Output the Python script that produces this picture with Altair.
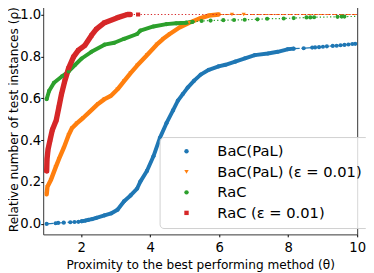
import altair as alt
import pandas as pd

SERIES = ["BaC(PaL)", "BaC(PaL) (ε = 0.01)", "RaC", "RaC (ε = 0.01)"]
COLORS = ["#1f77b4", "#ff7f0e", "#2ca02c", "#d62728"]
SHAPES = ["circle", "triangle-down", "circle", "square"]

X_TICKS = [2, 4, 6, 8, 10]
Y_TICKS = [0.0, 0.2, 0.4, 0.6, 0.8, 1.0]

# ---- BaC(PaL) ----
bac_pt_x = [1.0, 1.26, 1.334, 1.495, 1.685, 1.807, 1.92,
            8.449, 8.696, 8.78, 8.894, 9.008, 9.121, 9.291, 9.405, 9.518, 9.631, 9.745, 9.858, 9.943]
bac_pt_y = [0.0, 0.003, 0.005, 0.006, 0.008, 0.009, 0.01,
            0.839, 0.842, 0.843, 0.844, 0.846, 0.848, 0.85, 0.851, 0.853, 0.855, 0.857, 0.859, 0.86]
bac_run_x = [2.014, 2.119, 2.204, 2.317, 2.439, 2.677, 2.865, 3.054, 3.244, 3.432, 3.622, 3.715,
             3.905, 4.095, 4.282, 4.472, 4.662, 4.804, 4.945, 5.087, 5.274, 5.464, 5.7, 5.983,
             6.181, 6.465, 6.748, 7.032, 7.412, 7.695, 7.979, 8.157]
bac_run_y = [0.013, 0.016, 0.019, 0.023, 0.029, 0.041, 0.05, 0.068, 0.108, 0.136, 0.169, 0.202,
             0.253, 0.323, 0.411, 0.481, 0.542, 0.589, 0.62, 0.651, 0.684, 0.713, 0.736, 0.752,
             0.76, 0.775, 0.791, 0.806, 0.814, 0.822, 0.834, 0.837]
bac_end = (10.3, 0.862)

# ---- BaC(PaL) (eps=0.01) ----
bace_pt_x = [6.37, 6.71]
bace_pt_y = [1.0, 1.0]
bace_run_x = [1.0, 1.022, 1.118, 1.26, 1.354, 1.495, 1.637, 1.731, 1.872, 2.062, 2.252, 2.488,
              2.677, 2.865, 3.054, 3.244, 3.432, 3.622, 3.905, 4.188, 4.378, 4.566, 4.849, 5.133,
              5.416, 5.7, 5.983]
bace_run_y = [0.141, 0.177, 0.208, 0.27, 0.309, 0.363, 0.425, 0.457, 0.48, 0.507, 0.536, 0.573,
              0.596, 0.612, 0.643, 0.682, 0.72, 0.756, 0.806, 0.856, 0.884, 0.907, 0.938, 0.961,
              0.98, 0.995, 1.0]
bace_end = (10.3, 1.0)

# ---- RaC ----
rac_pt_x = [5.49, 5.75, 6.12, 6.43, 6.74, 7.11, 7.39, 7.87, 8.16, 8.53, 8.64, 8.75, 9.43, 9.55, 9.63]
rac_pt_y = [0.969, 0.971, 0.973, 0.974, 0.975, 0.977, 0.98, 0.981, 0.983, 0.986, 0.986, 0.987,
            0.989, 0.99, 0.99]
rac_run_x = [1.0, 1.07, 1.212, 1.447, 1.637, 1.827, 2.014, 2.298, 2.677, 2.961, 3.244, 3.622,
             3.715, 4.095, 4.472, 4.755, 5.039, 5.229]
rac_run_y = [0.596, 0.635, 0.674, 0.705, 0.728, 0.76, 0.79, 0.822, 0.856, 0.865, 0.884, 0.907,
             0.923, 0.943, 0.954, 0.958, 0.961, 0.965]
rac_end = (10.3, 0.992)

# ---- RaC (eps=0.01) ----
race_pt_x = [3.65]
race_pt_y = [1.0]
race_run_x = [1.0, 1.01, 1.04, 1.1, 1.164, 1.277, 1.354, 1.43, 1.524, 1.637, 1.779, 1.921, 2.11,
              2.298, 2.439, 2.677, 3.054, 3.338, 3.42]
race_run_y = [0.253, 0.309, 0.356, 0.402, 0.449, 0.495, 0.557, 0.62, 0.682, 0.744, 0.798, 0.83,
              0.853, 0.9, 0.93, 0.961, 0.985, 1.0, 1.0]
race_end = (10.3, 1.0)

rows = []
def add(name, kind, xs, ys):
    for xv, yv in zip(xs, ys):
        rows.append({"series": name, "kind": kind, "x": xv, "y": yv})

for name, px, py, rx, ry, end in [
    (SERIES[0], bac_pt_x, bac_pt_y, bac_run_x, bac_run_y, bac_end),
    (SERIES[1], bace_pt_x, bace_pt_y, bace_run_x, bace_run_y, bace_end),
    (SERIES[2], rac_pt_x, rac_pt_y, rac_run_x, rac_run_y, rac_end),
    (SERIES[3], race_pt_x, race_pt_y, race_run_x, race_run_y, race_end),
]:
    add(name, "pt", px, py)
    add(name, "run", rx, ry)
    add(name, "end", [end[0]], [end[1]])

df = pd.DataFrame(rows)
df["sidx"] = df["series"].map({s: i for i, s in enumerate(SERIES)})
df = df.sort_values(["sidx", "x"]).reset_index(drop=True)

W, H = 321, 235.5
FONT = "DejaVu Sans"

DASHES = [[7, 2, 1.5, 2], [4.5, 2], [1.3, 2.2], [1.3, 2.2]]
RUN_WIDTHS = [4, 4.5, 4, 5.5]

xenc = alt.X("x:Q", scale=alt.Scale(domain=[0.9, 10], nice=False, zero=False),
             axis=alt.Axis(values=X_TICKS, format="d",
                           title="Proximity to the best performing method (θ)",
                           titleY=34.4, titleBaseline="alphabetic",
                           labelPadding=4))
yenc = alt.Y("y:Q", scale=alt.Scale(domain=[-0.05, 1.05], nice=False, zero=False),
             axis=alt.Axis(values=Y_TICKS, format=".1f",
                           title="Relative number of test instances (ρ)",
                           titleX=-26.5, titleY=H / 2, titleAngle=270,
                           titleBaseline="alphabetic", labelPadding=0))

base = alt.Chart(df)
layers = []
for i, name in enumerate(SERIES):
    sub = base.transform_filter(alt.datum.series == name)
    layers.append(sub.mark_line(strokeWidth=1.2, clip=True, color=COLORS[i],
                                strokeDash=DASHES[i]).encode(x=xenc, y=yenc, order="x:Q"))
    layers.append(sub.transform_filter(alt.datum.kind == "run").mark_line(
        strokeWidth=RUN_WIDTHS[i], strokeCap="round", strokeJoin="round", clip=True,
        color=COLORS[i]).encode(x=xenc, y=yenc, order="x:Q"))

leg = alt.Legend(title=None, orient="none", legendX=119, legendY=136)
points = base.transform_filter(alt.datum.kind != "end").mark_point(
    filled=True, opacity=1, clip=True, strokeWidth=0, size=18).encode(
    x=xenc, y=yenc,
    color=alt.Color("series:N", scale=alt.Scale(domain=SERIES, range=COLORS), legend=leg),
    shape=alt.Shape("series:N", scale=alt.Scale(domain=SERIES, range=SHAPES), legend=leg),
)
layers.append(points)

chart = alt.layer(*layers).properties(
    width=W, height=H,
    autosize=alt.AutoSizeParams(type="none"),
    padding={"left": 36, "top": -7, "right": 9, "bottom": 36},
).configure_view(
    stroke="#333333", strokeWidth=1
).configure_axis(
    grid=False, domain=False, ticks=True, tickSize=2.5, tickColor="#000000", tickWidth=1,
    labelFont=FONT, labelFontSize=13.5, labelColor="#000000", labelFlush=False,
    labelOverlap=False,
    titleFont=FONT, titleFontSize=12.4, titleFontWeight="normal", titleColor="#000000",
).configure_legend(
    labelFont=FONT, labelFontSize=15, labelColor="#000000", labelLimit=300,
    symbolSize=20, symbolStrokeWidth=0, symbolOpacity=1,
    padding=7, rowPadding=5, labelOffset=24, symbolOffset=13,
    fillColor="rgba(255,255,255,0.8)", strokeColor="#d0d0d0", cornerRadius=4,
)

chart.save("out.html", embed_options={"renderer": "svg", "actions": False})
